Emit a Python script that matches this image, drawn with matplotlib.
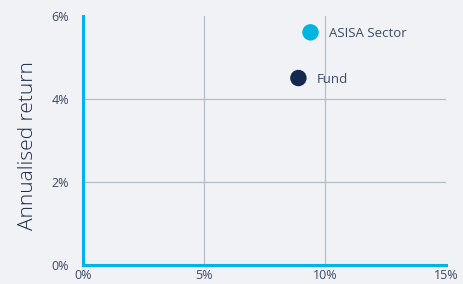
import matplotlib.pyplot as plt
from matplotlib.ticker import FuncFormatter

# risk (x) vs annualised return (y), in percent
names = ["ASISA Sector", "Fund"]
risk = [9.4, 8.9]
returns = [5.6, 4.5]
colors = ["#00b5e2", "#16284f"]

xticks = [0, 5, 10, 15]
yticks = [0, 2, 4, 6]

bg = "#f0f2f5"
text_color = "#3d4a63"
grid_color = "#b5bec8"
spine_color = "#00b5e2"

plt.rcParams["font.family"] = ["Open Sans", "DejaVu Sans"]

fig = plt.figure(figsize=(4.63, 2.84), dpi=100, facecolor=bg)
ax = fig.add_axes([0.1793, 0.0669, 0.784, 0.8778], facecolor=bg)

ax.scatter(risk, returns, s=140, c=colors, zorder=3, linewidths=0)
for x, y, name in zip(risk, returns, names):
    ax.annotate(name, (x, y), xytext=(13, -1), textcoords="offset points",
                va="center", ha="left", fontsize=9.5, color=text_color)

ax.set_xlim(0, 15)
ax.set_ylim(0, 6)
ax.set_xticks(xticks)
ax.set_yticks(yticks)
pct = FuncFormatter(lambda v, _: f"{v:.0f}%")
ax.xaxis.set_major_formatter(pct)
ax.yaxis.set_major_formatter(pct)
ax.tick_params(length=0, labelsize=9, colors=text_color)
ax.tick_params(axis="y", pad=10)
ax.tick_params(axis="x", pad=3)

# grid only at inner ticks
for x in xticks[1:-1]:
    ax.axvline(x, color=grid_color, lw=0.9, zorder=1)
for y in yticks[1:-1]:
    ax.axhline(y, color=grid_color, lw=0.9, zorder=1)

for side in ["top", "right"]:
    ax.spines[side].set_visible(False)
for side in ["left", "bottom"]:
    ax.spines[side].set_color(spine_color)
    ax.spines[side].set_linewidth(2.2)

ax.set_ylabel("Annualised return", fontsize=15, color="#1d2b4f",
              fontweight="light")
ax.yaxis.set_label_coords(-0.125, 0.48)

fig.savefig("out.png", dpi=100, facecolor=bg)
